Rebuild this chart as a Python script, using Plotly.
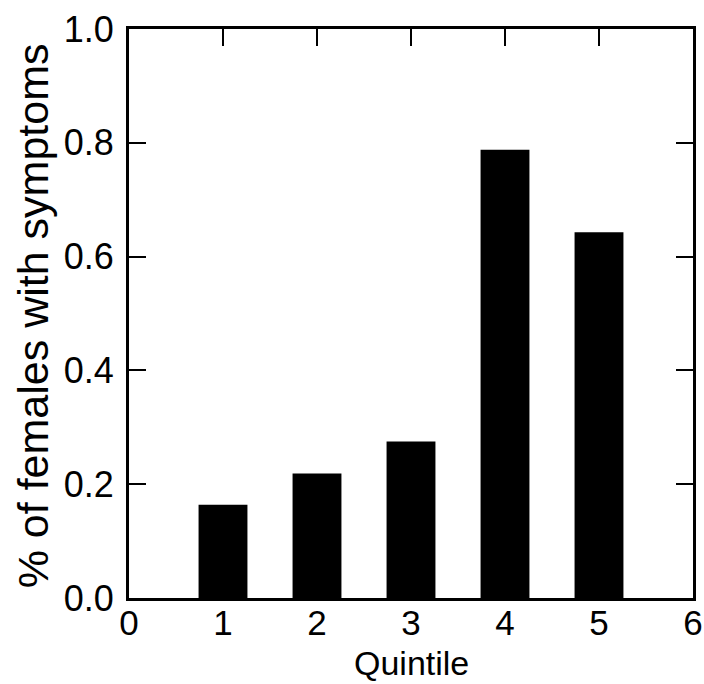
import plotly.graph_objects as go

quintiles = [1, 2, 3, 4, 5]
pct_symptoms = [0.164, 0.219, 0.275, 0.788, 0.643]
x_ticks = [0, 1, 2, 3, 4, 5, 6]
y_ticks = [0.0, 0.2, 0.4, 0.6, 0.8, 1.0]
y_tick_labels = ["0.0", "0.2", "0.4", "0.6", "0.8", "1.0"]
x_title = "Quintile"
y_title = "% of females with symptoms"

FONT = "Liberation Sans, Arial, sans-serif"

fig = go.Figure(go.Bar(x=quintiles, y=pct_symptoms, width=0.52,
                       marker=dict(color="black", line=dict(width=0))))

fig.update_layout(
    width=704, height=684,
    margin=dict(l=129, r=11, t=29, b=86),
    plot_bgcolor="white", paper_bgcolor="white",
    showlegend=False,
    font=dict(family=FONT, color="black", size=36),
    annotations=[
        dict(text=x_title, xref="paper", yref="paper", x=0.5, y=-86 / 569,
             xanchor="center", yanchor="bottom", showarrow=False,
             font=dict(size=34), yshift=0),
        dict(text=y_title, xref="paper", yref="paper", x=(33 - 129) / 564, y=0.495,
             xanchor="center", yanchor="middle", textangle=-90, showarrow=False,
             font=dict(size=43)),
    ],
)
fig.update_xaxes(
    range=[0, 6], tickvals=x_ticks, ticktext=[str(v) for v in x_ticks],
    ticks="inside", ticklen=17, tickwidth=2, tickcolor="black",
    showline=True, linewidth=3, linecolor="black", mirror="ticks",
    showgrid=False, zeroline=False, automargin=False,
    tickfont=dict(size=35), ticklabelstandoff=-8,
)
fig.update_yaxes(
    range=[0, 1], tickvals=y_ticks, ticktext=y_tick_labels,
    ticks="inside", ticklen=17, tickwidth=2, tickcolor="black",
    showline=True, linewidth=3, linecolor="black", mirror="ticks",
    showgrid=False, zeroline=False, automargin=False,
    tickfont=dict(size=36), ticklabelstandoff=5,
)

fig.write_html("out.html")
